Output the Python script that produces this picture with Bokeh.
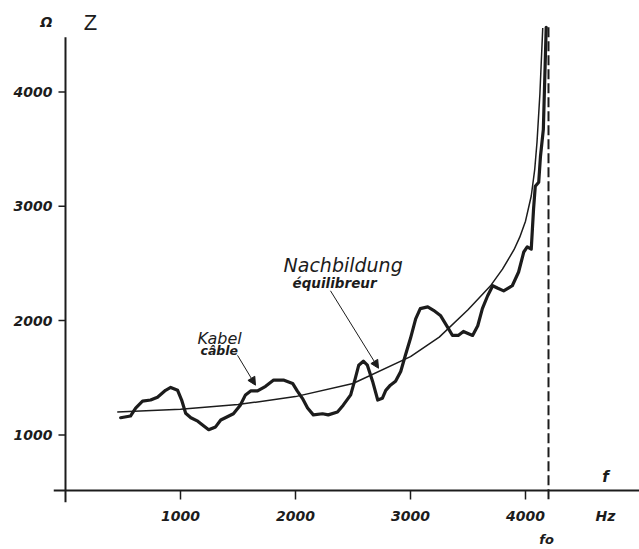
from bokeh.plotting import figure
from bokeh.models import Range1d, FixedTicker, Label, Arrow, NormalHead, LinearAxis
from bokeh.embed import file_html
from bokeh.resources import INLINE

# ---- data ----
freq_model = [450, 1000, 1500, 2000, 2500, 3000, 3250, 3500, 3700, 3800, 3900, 3950, 4000,
              4050, 4080, 4100, 4125, 4150]
z_model = [1200, 1225, 1265, 1335, 1450, 1685, 1855, 2095, 2310, 2450, 2620, 2730, 2870,
           3090, 3320, 3560, 3980, 4560]

freq_cable = [480, 565, 610, 670, 740, 800, 870, 915, 975, 1010,
              1045, 1090, 1150, 1200, 1245, 1305, 1350, 1390, 1460, 1520,
              1565, 1610, 1670, 1740, 1810, 1895, 1975, 2015, 2060, 2105,
              2155, 2235, 2285, 2365, 2415, 2480, 2520, 2550, 2590, 2625,
              2670, 2715, 2755, 2785, 2825, 2870, 2915, 2955, 3000, 3045,
              3085, 3150, 3200, 3260, 3330, 3365, 3415, 3460, 3505, 3540,
              3585, 3625, 3670, 3715, 3755, 3810, 3885, 3940, 3985, 4015,
              4050, 4060, 4070, 4085, 4115, 4130, 4155, 4180]
z_cable = [1150, 1165, 1235, 1295, 1305, 1330, 1390, 1415, 1390, 1305,
           1190, 1150, 1120, 1080, 1045, 1070, 1130, 1150, 1185, 1260,
           1350, 1385, 1385, 1425, 1480, 1480, 1450, 1385, 1320, 1235,
           1175, 1185, 1175, 1200, 1260, 1350, 1495, 1610, 1645, 1610,
           1470, 1305, 1320, 1390, 1435, 1470, 1555, 1695, 1845, 2015,
           2105, 2120, 2090, 2045, 1930, 1870, 1870, 1905, 1885, 1870,
           1955, 2105, 2215, 2305, 2285, 2260, 2305, 2425, 2600, 2645,
           2625, 2800, 2975, 3175, 3210, 3435, 3670, 4565]

x_ticks = [1000, 2000, 3000, 4000]
y_ticks = [1000, 2000, 3000, 4000]
f0 = 4200
z_base = 513  # level where the frequency axis crosses

INK = "#1c1c1c"

X0, X1 = -104.3, 4991.3
Y0, Y1 = 408.7, 4800

p = figure(width=639, height=549, output_backend="svg", toolbar_location=None,
           x_range=Range1d(X0, X1), y_range=Range1d(Y0, Y1),
           min_border_left=53, min_border_bottom=44, min_border_top=0, min_border_right=0)
p.outline_line_color = None
p.grid.visible = False
p.background_fill_color = "white"

def style_axis(ax, size="14px", standoff=0):
    ax.axis_line_color = None
    ax.major_tick_line_color = None
    ax.minor_tick_line_color = None
    ax.major_tick_in = 0
    ax.major_tick_out = 0
    ax.major_label_standoff = standoff
    ax.major_label_text_font = "DejaVu Sans"
    ax.major_label_text_font_style = "bold italic"
    ax.major_label_text_font_size = size
    ax.major_label_text_color = INK

xa = p.xaxis[0]
ya = p.yaxis[0]
style_axis(xa, standoff=5)
style_axis(ya, standoff=1)
xa.ticker = FixedTicker(ticks=x_ticks + [4696])
xa.major_label_overrides = {4696: "Hz"}
ya.ticker = FixedTicker(ticks=y_ticks + [4609])
ya.major_label_overrides = {4609: "Ω"}

fo_axis = LinearAxis(ticker=FixedTicker(ticks=[4183]), major_label_overrides={4183: "fo"})
style_axis(fo_axis, size="13px", standoff=5)
p.add_layout(fo_axis, "below")

# axis lines and tick marks (drawn in data space)
p.segment(x0=[0], y0=[Y0], x1=[0], y1=[4478], line_color=INK, line_width=2)
p.segment(x0=[X0], y0=[z_base], x1=[X1], y1=[z_base], line_color=INK, line_width=2)
p.segment(x0=[-61] * len(y_ticks), y0=y_ticks, x1=[0] * len(y_ticks), y1=y_ticks,
          line_color=INK, line_width=1.5)
p.segment(x0=x_ticks, y0=[z_base] * len(x_ticks), x1=x_ticks, y1=[z_base - 78] * len(x_ticks),
          line_color=INK, line_width=1.5)

# f0 dashed line
p.segment(x0=[f0], y0=[4565], x1=[f0], y1=[426], line_color=INK, line_width=2, line_dash="10 4")

# curves
p.line(freq_model, z_model, line_color=INK, line_width=1.5, line_join="round")
p.line(freq_cable, z_cable, line_color=INK, line_width=3.2, line_join="round", line_cap="round")

# annotation arrows
p.add_layout(Arrow(end=NormalHead(size=8, fill_color=INK, line_color=INK, line_width=1),
                   x_start=1496, y_start=1696, x_end=1652, y_end=1435,
                   line_color=INK, line_width=1))
p.add_layout(Arrow(end=NormalHead(size=8, fill_color=INK, line_color=INK, line_width=1),
                   x_start=2304, y_start=2261, x_end=2722, y_end=1583,
                   line_color=INK, line_width=1))

def lab(text, x, y, size, style="normal", font="DejaVu Sans", align="left", baseline="alphabetic"):
    p.add_layout(Label(x=x, y=y, text=text, text_font=font, text_font_size=size,
                       text_font_style=style, text_color=INK, text_align=align,
                       text_baseline=baseline))

lab("Kabel", 1148, 1845, "16px", "italic")
lab("câble", 1174, 1735, "12.5px", "bold italic")
lab("Nachbildung", 1896, 2487, "19px", "italic")
lab("équilibreur", 1974, 2330, "13.5px", "bold italic")

lab("Z", 217, 4609, "22px", "normal", font="Liberation Sans", align="center", baseline="middle")
lab("f", 4696, 635, "15px", "bold italic", align="center", baseline="middle")

open("out.html", "w").write(file_html(p, INLINE))
